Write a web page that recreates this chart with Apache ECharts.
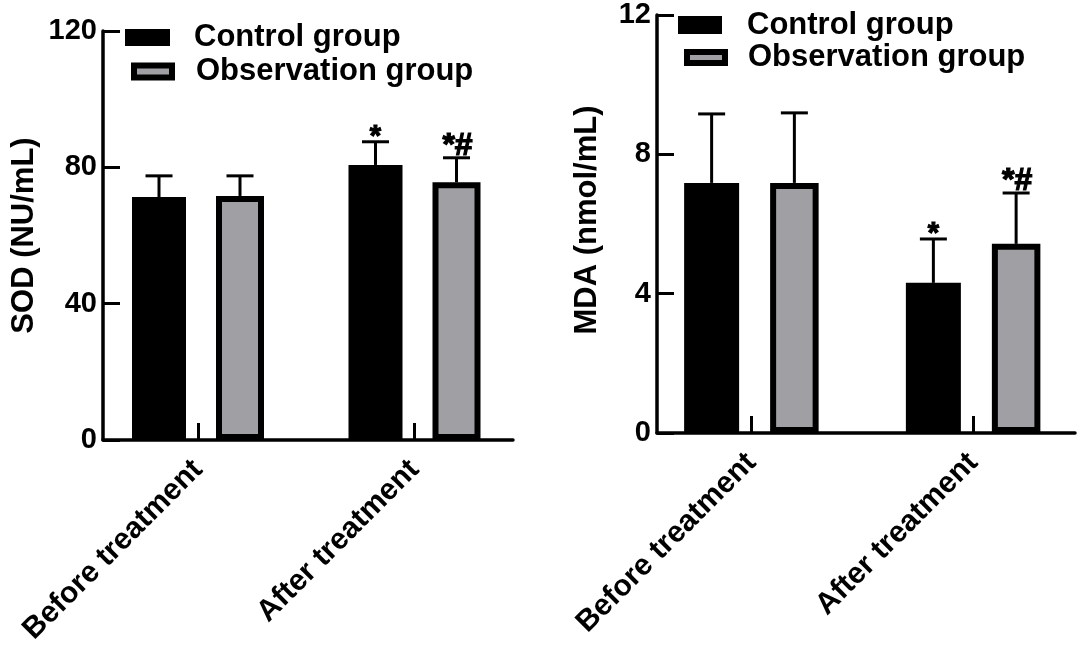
<!DOCTYPE html>
<html><head><meta charset="utf-8">
<script src="https://cdn.jsdelivr.net/npm/echarts@6/dist/echarts.min.js"></script>
<style>html,body{margin:0;padding:0;background:#fff}#c{width:1084px;height:649px}</style>
</head><body><div id="c"></div><script>
// ---------- data ----------
const categories = ['Before treatment', 'After treatment'];
const groupNames = ['Control group', 'Observation group'];

const sodTicks = [0, 40, 80, 120];
const sodControl = [71.3, 80.7];
const sodControlSD = [6.2, 6.8];
const sodObservation = [71.6, 75.6];
const sodObservationSD = [5.9, 7.2];
const sodControlMarks = ['', '*'];
const sodObservationMarks = ['', '*#'];

const mdaTicks = [0, 4, 8, 12];
const mdaControl = [7.18, 4.31];
const mdaControlSD = [1.98, 1.26];
const mdaObservation = [7.18, 5.43];
const mdaObservationSD = [2.01, 1.46];
const mdaControlMarks = ['', '*'];
const mdaObservationMarks = ['', '*#'];

// ---------- style / layout ----------
const FONT = "'Liberation Sans', Arial, sans-serif";
const GRAY = '#a0a0a4';
const AXW = 3.5;

const panels = [
  { name: 'SOD (NU/mL)', ticks: sodTicks, ctl: sodControl, ctlSD: sodControlSD, obs: sodObservation, obsSD: sodObservationSD,
    ctlMarks: sodControlMarks, obsMarks: sodObservationMarks,
    bandLeft: 89.75, bandWidth: 433, axisLeft: 103, axisWidth: 410, top: 31, height: 409,
    wC: 54, wO: 48, gap: 30, nameGap: 63, namePad: [0, 0, 0, 0],
    legC: { left: 125, top: 22, w: 45, h: 17, pad: 19 }, legO: { left: 131, top: 56, w: 38, h: 12, pad: 19 } },
  { name: 'MDA (nmol/mL)', ticks: mdaTicks, ctl: mdaControl, ctlSD: mdaControlSD, obs: mdaObservation, obsSD: mdaObservationSD,
    ctlMarks: mdaControlMarks, obsMarks: mdaObservationMarks,
    bandLeft: 640.5, bandWidth: 445, axisLeft: 657, axisWidth: 418, top: 15, height: 418,
    wC: 55, wO: 48.5, gap: 31, nameGap: 54, namePad: [0, 0, 0, 8],
    legC: { left: 678, top: 9.5, w: 44, h: 18, pad: 20 }, legO: { left: 684, top: 42, w: 38, h: 11, pad: 18 } }
];

const grid = [], xAxis = [], yAxis = [], series = [], legend = [];

function errRender(values, sds, marks, offset) {
  return function (params, api) {
    const i = params.dataIndex;
    const base = api.coord([i, values[i]]);
    const top = api.coord([i, values[i] + sds[i]]);
    const x = base[0] + offset;
    const half = 13.5;
    const children = [
      { type: 'line', shape: { x1: x, y1: base[1], x2: x, y2: top[1] }, style: { stroke: '#000', lineWidth: 3 } },
      { type: 'line', shape: { x1: x - half, y1: top[1], x2: x + half, y2: top[1] }, style: { stroke: '#000', lineWidth: 3 } }
    ];
    const m = marks[i];
    if (m) {
      const hasHash = m.indexOf('#') >= 0;
      children.push({ type: 'text', style: { text: m, x: x + (hasHash ? 1 : 0), y: top[1] + (hasHash ? 4 : 10), fill: '#000',
        stroke: '#000', lineWidth: 1.2,
        font: 'bold ' + (hasHash ? 32 : 29) + 'px ' + FONT, align: 'center', verticalAlign: 'bottom' } });
    }
    return { type: 'group', children: children };
  };
}

panels.forEach(function (p, k) {
  const gb = k * 2, ga = k * 2 + 1;
  const minV = p.ticks[0], maxV = p.ticks[p.ticks.length - 1], step = p.ticks[1] - p.ticks[0];
  grid.push({ left: p.bandLeft, width: p.bandWidth, top: p.top, height: p.height, containLabel: false });
  grid.push({ left: p.axisLeft, width: p.axisWidth, top: p.top, height: p.height, containLabel: false });

  xAxis.push({ type: 'category', gridIndex: gb, data: categories,
    axisLine: { show: false },
    axisTick: { show: true, inside: true, alignWithLabel: true, length: 17, lineStyle: { color: '#000', width: 3 } },
    axisLabel: { interval: 0, rotate: 45, margin: 25, color: '#000', fontSize: 30, fontWeight: 'bold', fontFamily: FONT },
    splitLine: { show: false } });
  xAxis.push({ type: 'value', gridIndex: ga, min: 0, max: 1,
    axisLine: { show: true, onZero: false, lineStyle: { color: '#000', width: AXW } },
    axisTick: { show: false }, axisLabel: { show: false }, splitLine: { show: false } });

  yAxis.push({ type: 'value', gridIndex: gb, min: minV, max: maxV, interval: step, show: false, splitLine: { show: false } });
  yAxis.push({ type: 'value', gridIndex: ga, min: minV, max: maxV, interval: step,
    name: p.name, nameLocation: 'middle', nameGap: p.nameGap, nameRotate: 90,
    nameTextStyle: { color: '#000', fontSize: 31, fontWeight: 'bold', fontFamily: FONT, padding: p.namePad },
    axisLine: { show: true, onZero: false, lineStyle: { color: '#000', width: AXW } },
    axisTick: { show: true, inside: true, length: 17, lineStyle: { color: '#000', width: 3 } },
    axisLabel: { margin: 6, color: '#000', fontSize: 29, fontWeight: 'bold', fontFamily: FONT },
    splitLine: { show: false } });

  const barGap = (p.gap / p.wC * 100) + '%';
  const sum = p.wC + p.gap + p.wO;
  const offC = -sum / 2 + p.wC / 2;
  const offO = -sum / 2 + p.wC + p.gap + p.wO / 2;

  series.push({ type: 'bar', name: groupNames[0], xAxisIndex: gb, yAxisIndex: gb, data: p.ctl,
    barWidth: p.wC, barGap: barGap, itemStyle: { color: '#000' } });
  series.push({ type: 'bar', name: groupNames[1], xAxisIndex: gb, yAxisIndex: gb, data: p.obs,
    barWidth: p.wO, barGap: barGap, itemStyle: { color: GRAY, borderColor: '#000', borderWidth: 6 } });
  series.push({ type: 'custom', name: groupNames[0], xAxisIndex: gb, yAxisIndex: gb, z: 3,
    data: p.ctl.map(function (v, i) { return [i, v]; }),
    renderItem: errRender(p.ctl, p.ctlSD, p.ctlMarks, offC) });
  series.push({ type: 'custom', name: groupNames[1], xAxisIndex: gb, yAxisIndex: gb, z: 3,
    data: p.obs.map(function (v, i) { return [i, v]; }),
    renderItem: errRender(p.obs, p.obsSD, p.obsMarks, offO) });

  legend.push({ data: [groupNames[0]], left: p.legC.left, top: p.legC.top, padding: 0, icon: 'rect',
    itemWidth: p.legC.w, itemHeight: p.legC.h, selectedMode: false,
    itemStyle: { color: '#000', borderWidth: 0 },
    textStyle: { color: '#000', fontSize: 31, fontWeight: 'bold', fontFamily: FONT, lineHeight: 30, padding: [0, 0, 0, p.legC.pad] } });
  legend.push({ data: [groupNames[1]], left: p.legO.left, top: p.legO.top, padding: 0, icon: 'rect',
    itemWidth: p.legO.w, itemHeight: p.legO.h, selectedMode: false,
    itemStyle: { color: GRAY, borderColor: '#000', borderWidth: 6 },
    textStyle: { color: '#000', fontSize: 31, fontWeight: 'bold', fontFamily: FONT, lineHeight: 30, padding: [0, 0, 0, p.legO.pad] } });
});

const chart = echarts.init(document.getElementById('c'), null, { renderer: 'canvas' });
chart.setOption({ backgroundColor: '#fff', animation: false, grid: grid, xAxis: xAxis, yAxis: yAxis, series: series, legend: legend });
</script></body></html>
